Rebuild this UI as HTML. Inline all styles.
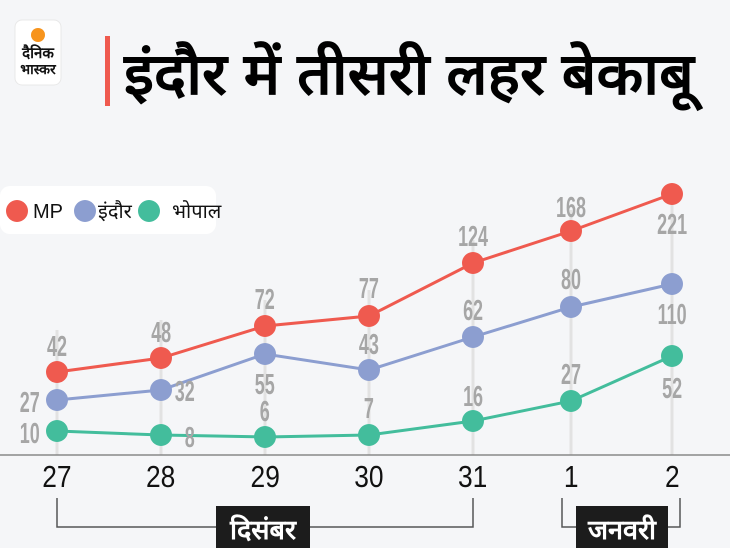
<!DOCTYPE html>
<html><head><meta charset="utf-8"><style>
body{margin:0;background:#f5f6f8;}
svg{display:block}
</style></head><body>
<svg width="730" height="548" viewBox="0 0 730 548" xmlns="http://www.w3.org/2000/svg" font-family="Liberation Sans, Noto Sans CJK SC, sans-serif">
<rect width="730" height="548" fill="#f5f6f8"/>
<rect x="15" y="20" width="46" height="65" rx="7" fill="#fff" stroke="#e8e8e8"/>
<circle cx="38" cy="35" r="7" fill="#f7941d"/>
<text x="38" y="58" font-size="15" font-weight="bold" text-anchor="middle" fill="#111">दैनिक</text>
<text x="38" y="74" font-size="14" font-weight="bold" text-anchor="middle" fill="#111">भास्कर</text>
<rect x="105" y="36" width="5" height="70" fill="#ef5a4f"/>
<text x="124" y="94" font-size="58" font-weight="bold" fill="#000" transform="translate(124 0) scale(1.05 1) translate(-124 0)">इंदौर में तीसरी लहर बेकाबू</text>
<rect x="0" y="186" width="216" height="48" rx="10" fill="#fff"/>
<circle cx="17" cy="211" r="11" fill="#ef5a4f"/>
<circle cx="85" cy="211" r="11" fill="#8c9ed0"/>
<circle cx="149" cy="211" r="11" fill="#43bd9c"/>
<g font-size="20" fill="#111"><text x="33" y="218">MP</text><text x="98" y="218">इंदौर</text><text x="172" y="218">भोपाल</text></g>
<g stroke="#e2e2e2" stroke-width="3">
<line x1="57" y1="330" x2="57" y2="455"/><line x1="161" y1="320" x2="161" y2="455"/><line x1="265" y1="300" x2="265" y2="455"/><line x1="369" y1="290" x2="369" y2="455"/><line x1="473" y1="240" x2="473" y2="455"/><line x1="571" y1="210" x2="571" y2="455"/><line x1="672" y1="200" x2="672" y2="455"/>
</g>
<line x1="0" y1="455" x2="730" y2="455" stroke="#888" stroke-width="1.5"/>
<g fill="none" stroke-width="3">
<polyline stroke="#ef5a4f" points="57,372 161,358 265,326 369,316 473,263 571,231 672,194"/>
<polyline stroke="#8c9ed0" points="57,400 161,390 265,354 369,370 473,337 571,307 672,284"/>
<polyline stroke="#43bd9c" points="57,431 161,435 265,437 369,435 473,421 571,401 672,356"/>
</g>
<g fill="#ef5a4f"><circle cx="57" cy="372" r="11"/><circle cx="161" cy="358" r="11"/><circle cx="265" cy="326" r="11"/><circle cx="369" cy="316" r="11"/><circle cx="473" cy="263" r="11"/><circle cx="571" cy="231" r="11"/><circle cx="672" cy="194" r="11"/></g>
<g fill="#8c9ed0"><circle cx="57" cy="400" r="11"/><circle cx="161" cy="390" r="11"/><circle cx="265" cy="354" r="11"/><circle cx="369" cy="370" r="11"/><circle cx="473" cy="337" r="11"/><circle cx="571" cy="307" r="11"/><circle cx="672" cy="284" r="11"/></g>
<g fill="#43bd9c"><circle cx="57" cy="431" r="11"/><circle cx="161" cy="435" r="11"/><circle cx="265" cy="437" r="11"/><circle cx="369" cy="435" r="11"/><circle cx="473" cy="421" r="11"/><circle cx="571" cy="401" r="11"/><circle cx="672" cy="356" r="11"/></g>
<g font-size="29" font-weight="bold" fill="#a6a6a6" text-anchor="middle">
<g transform="scale(0.62 1)">
<text x="92" y="356">42</text><text x="260" y="342">48</text><text x="427" y="309">72</text><text x="595" y="298">77</text><text x="763" y="246">124</text><text x="921" y="217">168</text><text x="1084" y="234">221</text>
<text x="48" y="412">27</text><text x="298" y="401">32</text><text x="427" y="394">55</text><text x="595" y="354">43</text><text x="763" y="320">62</text><text x="921" y="289">80</text><text x="1084" y="324">110</text>
<text x="48" y="443">10</text><text x="306" y="447">8</text><text x="427" y="421">6</text><text x="595" y="418">7</text><text x="763" y="406">16</text><text x="921" y="384">27</text><text x="1084" y="398">52</text>
</g></g>
<g font-size="31" fill="#111" text-anchor="middle"><g transform="scale(0.85 1)">
<text x="67" y="487">27</text><text x="189" y="487">28</text><text x="312" y="487">29</text><text x="434" y="487">30</text><text x="556" y="487">31</text><text x="672" y="487">1</text><text x="791" y="487">2</text>
</g></g>
<polyline points="57,498 57,527 473,527 473,498" fill="none" stroke="#555" stroke-width="1.5"/>
<polyline points="562,498 562,527 680,527 680,498" fill="none" stroke="#555" stroke-width="1.5"/>
<rect x="216" y="506" width="94" height="42" fill="#1c1c1c"/>
<rect x="576" y="506" width="92" height="42" fill="#1c1c1c"/>
<g font-size="27" font-weight="bold" fill="#fff" text-anchor="middle"><text x="263" y="539">दिसंबर</text><text x="622" y="539">जनवरी</text></g>
</svg>
</body></html>
